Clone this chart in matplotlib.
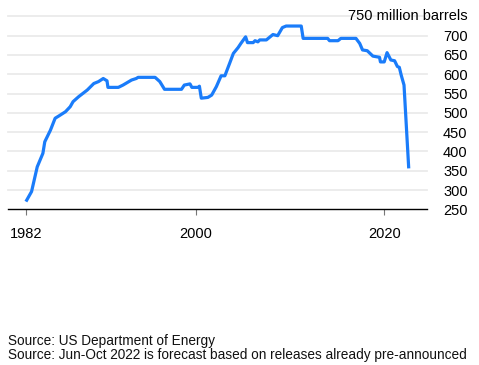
import numpy as np
import matplotlib
matplotlib.use("Agg")
import matplotlib.pyplot as plt

plt.rcParams["font.family"] = ["Liberation Sans", "DejaVu Sans"]

# Strategic petroleum reserve, million barrels
years = [
    1982.0, 1982.6, 1983.2, 1983.8, 1984.0, 1984.6, 1985.1, 1985.5, 1986.2,
    1986.7, 1987.0, 1987.6, 1988.5, 1989.2, 1989.7, 1990.2, 1990.6, 1990.7,
    1991.8, 1992.3, 1993.2, 1993.7, 1993.9, 1995.7, 1996.2, 1996.7, 1998.5,
    1998.8, 1999.4, 1999.6, 2000.3, 2000.4, 2000.6, 2001.3, 2001.7, 2002.2,
    2002.7, 2003.1, 2003.6, 2004.0, 2004.5, 2004.8, 2005.3, 2005.5, 2006.1,
    2006.3, 2006.6, 2006.8, 2007.5, 2008.2, 2008.7, 2009.2, 2009.6, 2011.2,
    2011.4, 2014.0, 2014.2, 2015.1, 2015.4, 2017.0, 2017.4, 2017.7, 2018.2,
    2018.8, 2019.5, 2019.6, 2020.0, 2020.3, 2020.7, 2021.1, 2021.4, 2021.6,
    2021.8, 2022.1, 2022.6,
]
barrels = [
    270, 296, 360, 395, 425, 455, 486, 492, 503,
    516, 529, 542, 559, 576, 581, 589, 583, 566,
    566, 572, 585, 589, 592, 592, 581, 561, 561,
    572, 575, 566, 566, 569, 538, 540, 546, 568,
    596, 596, 628, 654, 669, 680, 697, 682, 682,
    687, 684, 689, 689, 703, 700, 721, 725, 725,
    693, 693, 687, 687, 693, 693, 680, 663, 661,
    647, 644, 632, 632, 656, 637, 635, 620, 618,
    598, 572, 356,
]

y_ticks = [250, 300, 350, 400, 450, 500, 550, 600, 650, 700, 750]
x_ticks = [1982, 2000, 2020]

fig = plt.figure(figsize=(4.79, 3.65), dpi=100)
ax = fig.add_axes([0.0167, 0.4266, 0.874, 0.5285])

for v in y_ticks[1:]:
    ax.axhline(v, color="#ebebeb", linewidth=1.3, zorder=0, clip_on=False)

ax.plot(years, barrels, color="#1a7cfa", linewidth=2.3, solid_joinstyle="round",
        solid_capstyle="butt", zorder=3)

ax.set_xlim(1980.1, 2024.5)
ax.set_ylim(250, 750)

for s in ["top", "right", "left"]:
    ax.spines[s].set_visible(False)
ax.spines["bottom"].set_linewidth(1.0)
ax.spines["bottom"].set_color("black")

ax.set_xticks(x_ticks)
ax.set_xticklabels([str(x) for x in x_ticks], fontsize=10.5)
ax.tick_params(axis="x", length=4, width=0.8, color="#777777", pad=9)

ax.yaxis.tick_right()
ax.set_yticks(y_ticks[:-1])
ax.set_yticklabels([str(v) for v in y_ticks[:-1]], fontsize=10.5, ha="right")
ax.tick_params(axis="y", length=0, pad=29.5)
ax.text(1.098, 1.0, "750 million barrels", transform=ax.transAxes,
        ha="right", va="center", fontsize=10.5)

fig.text(0.0167, 1 - 341 / 365, "Source: US Department of Energy", fontsize=9.8,
         va="center", ha="left", color="#111111")
fig.text(0.0167, 1 - 355 / 365,
         "Source: Jun-Oct 2022 is forecast based on releases already pre-announced",
         fontsize=9.8, va="center", ha="left", color="#111111")

fig.savefig("out.png", dpi=100)
